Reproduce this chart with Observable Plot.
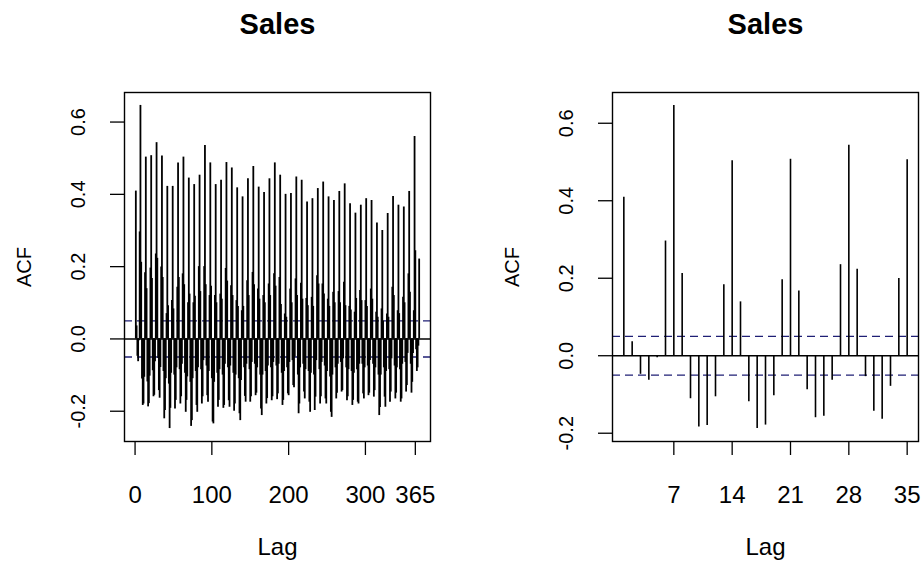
<!DOCTYPE html>
<html><head><meta charset="utf-8">
<script src="https://cdn.jsdelivr.net/npm/d3@7"></script>
<script src="https://cdn.jsdelivr.net/npm/@observablehq/plot@0.6"></script>
<style>
html,body{margin:0;padding:0;background:#fff;}
#wrap{position:relative;width:923px;height:563px;overflow:hidden;background:#fff;}
#wrap svg{position:absolute;top:0;}
</style></head><body><div id="wrap"></div>
<script>
const titleText = "Sales";
const xLabel = "Lag";
const yLabel = "ACF";
const ciLevel = 0.05;
const yTicks = [-0.2, 0, 0.2, 0.4, 0.6];
const xTicksLong = [0, 100, 200, 300, 365];
const xTicksShort = [7, 14, 21, 28, 35];

// right panel: lags 1..35
const acfShort = [
  0.409, 0.036, -0.048,
  -0.063, -0.005, 0.296, 0.646, 0.212, -0.111, -0.184,
  -0.180, -0.106, 0.183, 0.503, 0.139, -0.119, -0.188,
  -0.179, -0.103, 0.196, 0.507, 0.167, -0.088, -0.160,
  -0.156, -0.063, 0.235, 0.543, 0.223, -0.054, -0.143,
  -0.164, -0.079, 0.199, 0.506
];

// left panel: lags 1..370
const acfLong = [
  0.409, 0.036, -0.048,
  -0.063, -0.005, 0.296, 0.646, 0.212, -0.111, -0.184,
  -0.180, -0.106, 0.183, 0.503, 0.139, -0.119, -0.188,
  -0.179, -0.103, 0.196, 0.507, 0.167, -0.088, -0.160,
  -0.156, -0.063, 0.235, 0.543, 0.223, -0.054, -0.143,
  -0.164, -0.079, 0.199, 0.506, 0.170, -0.090, -0.221,
  -0.198, -0.110, 0.070, 0.422, 0.092, -0.125, -0.248,
  -0.192, -0.095, 0.106, 0.422, 0.083, -0.100, -0.194,
  -0.170, -0.080, 0.143, 0.487, 0.170, -0.085, -0.180,
  -0.160, -0.070, 0.180, 0.503, 0.150, -0.095, -0.203,
  -0.170, -0.105, 0.100, 0.445, 0.124, -0.120, -0.242,
  -0.226, -0.110, 0.100, 0.427, 0.118, -0.090, -0.184,
  -0.203, -0.080, 0.200, 0.453, 0.131, -0.085, -0.180,
  -0.160, -0.060, 0.200, 0.535, 0.150, -0.075, -0.157,
  -0.175, -0.090, 0.120, 0.487, 0.146, -0.110, -0.230,
  -0.235, -0.120, 0.120, 0.427, 0.100, -0.095, -0.189,
  -0.170, -0.085, 0.124, 0.439, 0.110, -0.100, -0.192,
  -0.184, -0.070, 0.195, 0.488, 0.160, -0.080, -0.171,
  -0.189, -0.075, 0.147, 0.473, 0.120, -0.095, -0.200,
  -0.180, -0.100, 0.106, 0.418, 0.090, -0.110, -0.207,
  -0.226, -0.115, 0.078, 0.393, 0.090, -0.080, -0.159,
  -0.175, -0.070, 0.161, 0.443, 0.120, -0.085, -0.175,
  -0.160, -0.065, 0.184, 0.477, 0.150, -0.070, -0.157,
  -0.150, -0.080, 0.138, 0.420, 0.110, -0.100, -0.194,
  -0.212, -0.100, 0.120, 0.405, 0.100, -0.090, -0.180,
  -0.165, -0.075, 0.152, 0.443, 0.120, -0.080, -0.171,
  -0.160, -0.065, 0.180, 0.487, 0.146, -0.075, -0.168,
  -0.152, -0.070, 0.170, 0.453, 0.095, -0.095, -0.184,
  -0.170, -0.090, 0.069, 0.400, 0.060, -0.080, -0.152,
  -0.157, -0.065, 0.138, 0.402, 0.100, -0.060, -0.129,
  -0.135, -0.050, 0.166, 0.448, 0.120, -0.100, -0.207,
  -0.180, -0.080, 0.154, 0.439, 0.110, -0.070, -0.147,
  -0.166, -0.085, 0.112, 0.379, 0.092, -0.090, -0.175,
  -0.203, -0.095, 0.115, 0.388, 0.090, -0.100, -0.198,
  -0.161, -0.060, 0.175, 0.416, 0.152, -0.085, -0.180,
  -0.160, -0.065, 0.152, 0.434, 0.124, -0.075, -0.166,
  -0.180, -0.090, 0.110, 0.393, 0.090, -0.105, -0.203,
  -0.217, -0.100, 0.129, 0.383, 0.100, -0.080, -0.166,
  -0.150, -0.070, 0.131, 0.408, 0.100, -0.065, -0.147,
  -0.143, -0.055, 0.157, 0.429, 0.092, -0.080, -0.171,
  -0.160, -0.085, 0.090, 0.374, 0.080, -0.090, -0.184,
  -0.170, -0.095, 0.074, 0.348, 0.112, -0.085, -0.175,
  -0.180, -0.070, 0.134, 0.370, 0.106, -0.070, -0.152,
  -0.166, -0.080, 0.106, 0.388, 0.090, -0.075, -0.157,
  -0.150, -0.060, 0.138, 0.383, 0.110, -0.070, -0.161,
  -0.143, -0.080, 0.074, 0.321, 0.060, -0.100, -0.212,
  -0.190, -0.100, 0.083, 0.300, 0.050, -0.080, -0.161,
  -0.189, -0.090, 0.069, 0.347, 0.060, -0.085, -0.175,
  -0.147, -0.055, 0.143, 0.394, 0.120, -0.075, -0.166,
  -0.150, -0.080, 0.078, 0.370, 0.070, -0.085, -0.175,
  -0.166, -0.070, 0.115, 0.365, 0.100, -0.065, -0.147,
  -0.129, -0.040, 0.180, 0.408, 0.129, -0.070, -0.150,
  -0.120, -0.040, 0.078, 0.560, 0.244, -0.030, -0.090,
  -0.080, -0.020, 0.221
];

const font = "'Liberation Sans', Arial, Helvetica, sans-serif";

function panel({acf, xTicks, width, marginLeft, marginRight, spikeWidth}) {
  const data = acf.map((v, i) => ({lag: i + 1, acf: v}));
  const n = data.length;
  const [ymin, ymax] = d3.extent([...acf, ciLevel, -ciLevel]);
  const yr = ymax - ymin;
  const xr = n - 1;
  return Plot.plot({
    width, height: 563, marginLeft, marginRight, marginTop: 92, marginBottom: 122,
    style: {fontFamily: font, background: "white", overflow: "visible", color: "black"},
    x: {domain: [1 - 0.04 * xr, n + 0.04 * xr], axis: null, label: null},
    y: {domain: [ymin - 0.04 * yr, ymax + 0.04 * yr], axis: null, label: null},
    marks: [
      Plot.ruleY([ciLevel, -ciLevel], {stroke: "#1f1f75", strokeDasharray: "8,5", strokeWidth: 1.4}),
      Plot.ruleY([0], {stroke: "black", strokeWidth: 1.4}),
      Plot.ruleX(data, {x: "lag", y1: 0, y2: "acf", stroke: "black", strokeWidth: spikeWidth}),
      Plot.frame({stroke: "black", strokeWidth: 1.4}),
      Plot.axisX({ticks: xTicks, anchor: "bottom", tickSize: 14, tickPadding: 30, tickFormat: d => String(d), fontSize: 24, label: null, stroke: "black", strokeWidth: 1.3}),
      Plot.axisY({ticks: yTicks, anchor: "left", tickSize: 14, tickPadding: 26, tickRotate: -90, tickFormat: d => d.toFixed(1), fontSize: 20, label: null, stroke: "black", strokeWidth: 1.3}),
      Plot.text([titleText], {text: d => d, frameAnchor: "top", dy: -68, fontSize: 29, fontWeight: "bold", lineAnchor: "middle", fill: "black"}),
      Plot.text([xLabel], {text: d => d, frameAnchor: "bottom", dy: 106, fontSize: 24, lineAnchor: "middle", fill: "black"}),
      Plot.text([yLabel], {text: d => d, frameAnchor: "left", dx: -100, rotate: -90, fontSize: 20, lineAnchor: "middle", textAnchor: "middle", fill: "black"})
    ]
  });
}

const wrap = document.getElementById("wrap");
const left = panel({acf: acfLong, xTicks: xTicksLong, width: 461, marginLeft: 124, marginRight: 31, spikeWidth: 1.8});
left.style.left = "0px";
wrap.appendChild(left);
const right = panel({acf: acfShort, xTicks: xTicksShort, width: 462, marginLeft: 151, marginRight: 5, spikeWidth: 1.6});
right.style.left = "461px";
wrap.appendChild(right);
</script>
</body></html>
